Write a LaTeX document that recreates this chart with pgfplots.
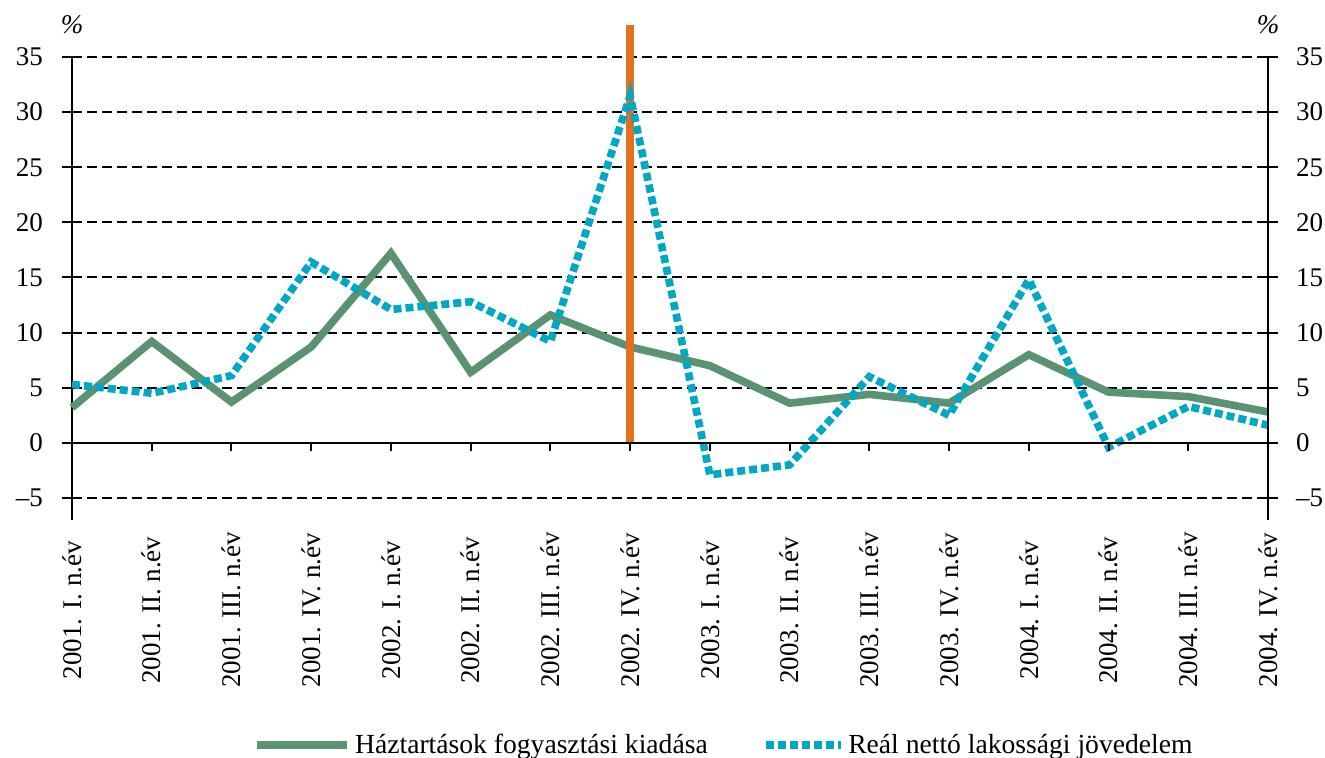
\documentclass[border=0pt]{standalone}
\usepackage{fontspec}
\setmainfont{Liberation Serif}
\usepackage{pgfplots}
\pgfplotsset{compat=1.18}
\definecolor{cgreen}{RGB}{90,147,114}
\definecolor{cblue}{RGB}{0,168,198}
\definecolor{corange}{RGB}{226,112,30}
\begin{document}
\begin{tikzpicture}[font=\fontsize{13.5}{16}\selectfont]
\useasboundingbox (-36pt,-118.5pt) rectangle (626.5pt,260pt);
\pgfplotsset{
  base/.style={scale only axis, width=598pt, height=231.5pt,
    at={(0pt,0pt)}, anchor=south west,
    xmin=0, xmax=15, ymin=-7, ymax=35, clip=false,
    ytick={-5,0,5,10,15,20,25,30,35},
    yticklabels={–5,0,5,10,15,20,25,30,35},
    tick style={line width=1pt, black},
    axis line style={line width=1pt, black, -},
  },
}
\begin{axis}[base,
  axis y line*=left, axis x line*=bottom,
  x axis line style={draw=none},
  xtick={0,...,15},
  xtick style={draw=none},
  xticklabels={2001. I. n.év, 2001. II. n.év, 2001. III. n.év, 2001. IV. n.év,
    2002. I. n.év, 2002. II. n.év, 2002. III. n.év, 2002. IV. n.év,
    2003. I. n.év, 2003. II. n.év, 2003. III. n.év, 2003. IV. n.év,
    2004. I. n.év, 2004. II. n.év, 2004. III. n.év, 2004. IV. n.év},
  xticklabel style={anchor=center, yshift=-45pt, rotate=90},
  yticklabel style={xshift=-6pt},
  major tick length=10pt, ytick align=center,
  ymajorgrids,
  grid style={black, line width=1pt, dash pattern=on 5pt off 2.5pt},
  legend style={at={(0.546,-0.486)}, anchor=center, draw=none, fill=none,
    legend columns=2, /tikz/every even column/.append style={column sep=25pt},
    font=\fontsize{13.8}{16}\selectfont},
  legend cell align=left,
]
\addplot[cgreen, line width=3.8pt, line join=miter,
  legend image code/.code={\draw[cgreen, line width=3.8pt] (0pt,0pt) -- (45pt,0pt);}]
  coordinates {(0,3.2)(1,9.2)(2,3.7)(3,8.7)(4,17.2)(5,6.4)(6,11.6)(7,8.7)
   (8,7.0)(9,3.6)(10,4.4)(11,3.6)(12,8.0)(13,4.6)(14,4.2)(15,2.8)};
\addlegendentry{Háztartások fogyasztási kiadása}
\addplot[corange, line width=4pt, forget plot] coordinates {(7,0)(7,37.9)};
\addplot[cblue, line width=3.8pt, dash pattern=on 4pt off 2pt, line join=miter,
  legend image code/.code={\draw[cblue, line width=3.8pt, dash pattern=on 4pt off 2pt] (0pt,0pt) -- (37.5pt,0pt);}]
  coordinates {(0,5.3)(1,4.5)(2,6.1)(3,16.4)(4,12.1)(5,12.8)(6,9.2)(7,31.5)
   (8,-2.9)(9,-2.0)(10,6.0)(11,2.5)(12,14.8)(13,-0.4)(14,3.3)(15,1.6)};
\addlegendentry{Reál nettó lakossági jövedelem}
\node at (rel axis cs:0,1) [yshift=16pt] {\textit{\%}};
\node at (rel axis cs:1,1) [yshift=16pt] {\textit{\%}};
\end{axis}
\begin{axis}[base,
  axis y line*=right, axis x line=none,
  major tick length=10pt, ytick align=center,
  yticklabel style={xshift=5.5pt},
  xtick=\empty,
]
\end{axis}
\begin{axis}[base,
  axis x line*=middle, axis y line=none,
  x axis line style={-},
  every inner x axis line/.append style={-},
  xtick={0,...,15}, xticklabels={}, xtick align=outside,
  major tick length=4pt, ytick=\empty,
  hide obscured x ticks=false,
]
\end{axis}
\end{tikzpicture}
\end{document}
